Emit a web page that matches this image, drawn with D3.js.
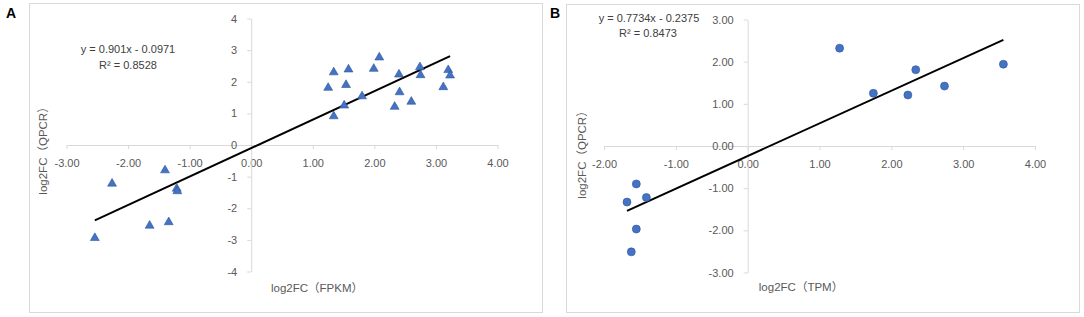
<!DOCTYPE html>
<html><head><meta charset="utf-8">
<script src="https://cdn.jsdelivr.net/npm/d3@7"></script>
<style>
html,body{margin:0;padding:0;background:#fff;}
svg text{font-family:"Liberation Sans","Noto Sans CJK SC",sans-serif;}
</style></head>
<body><svg id="c" width="1084" height="317"></svg>
<script>
// Panel A data: log2FC (FPKM) vs log2FC (QPCR)
const aX = [-2.54,-2.26,-1.65,-1.34,-1.40,-1.21,-1.20,1.25,1.34,1.34,1.51,1.54,1.58,1.80,1.99,2.08,2.33,2.40,2.41,2.60,2.74,2.75,3.12,3.20,3.23];
const aY = [-2.94,-1.22,-2.55,-2.44,-0.80,-1.38,-1.46,1.81,2.30,0.91,1.25,1.90,2.39,1.54,2.41,2.77,1.21,2.23,1.67,1.37,2.46,2.21,1.83,2.37,2.20];
const aXTicks = [-3,-2,-1,0,1,2,3,4];
const aYTicks = [-4,-3,-2,-1,0,1,2,3,4];
const aFit = {slope:0.901, intercept:-0.0971};
const aEq = ["y = 0.901x - 0.0971", "R² = 0.8528"];

// Panel B data: log2FC (TPM) vs log2FC (QPCR)
const bX = [-1.68,-1.55,-1.41,-1.55,-1.62,1.28,1.75,2.23,2.34,2.74,3.56];
const bY = [-1.33,-0.90,-1.22,-1.97,-2.51,2.32,1.25,1.21,1.81,1.42,1.94];
const bXTicks = [-2,-1,0,1,2,3,4];
const bYTicks = [-3,-2,-1,0,1,2,3];
const bFit = {slope:0.7734, intercept:-0.2375};
const bEq = ["y = 0.7734x - 0.2375", "R² = 0.8473"];

const svg = d3.select("#c");
const gridC = "#d9d9d9", labC = "#595959", markFill = "#4472C4", markStroke = "#2F5597";

function panel(opt){
  const g = svg.append("g");
  g.append("rect").attr("x",opt.box[0]).attr("y",opt.box[1]).attr("width",opt.box[2]).attr("height",opt.box[3])
    .attr("fill","none").attr("stroke",gridC).attr("stroke-width",1);
  g.append("text").attr("x",opt.letter[0]).attr("y",opt.letter[1]).text(opt.letterText)
    .attr("font-size",14).attr("font-weight","bold").attr("fill","#000");
  const x = d3.scaleLinear().domain(opt.xd).range(opt.xr);
  const y = d3.scaleLinear().domain(opt.yd).range(opt.yr);
  const xa = g.append("g").attr("transform",`translate(0,${y(0)})`)
    .call(d3.axisBottom(x).tickValues(opt.xt).tickFormat(d=>d.toFixed(2)).tickSize(4).tickSizeOuter(0).tickPadding(10));
  const ya = g.append("g").attr("transform",`translate(${x(0)},0)`)
    .call(d3.axisLeft(y).tickValues(opt.yt).tickFormat(opt.yf).tickSize(4).tickSizeOuter(0).tickPadding(10));
  [xa,ya].forEach(a=>{
    a.select(".domain").attr("stroke",gridC);
    a.selectAll(".tick line").attr("stroke",gridC);
    a.selectAll(".tick text").attr("fill",labC).attr("font-size",11)
      .attr("font-family",'"Liberation Sans",sans-serif');
  });
  // trendline
  const ex = d3.extent(opt.px);
  const f = v => opt.fit.slope*v + opt.fit.intercept;
  g.append("line").attr("x1",x(ex[0])).attr("y1",y(f(ex[0]))).attr("x2",x(ex[1])).attr("y2",y(f(ex[1])))
    .attr("stroke","#000").attr("stroke-width",2);
  // markers
  const pts = opt.px.map((v,i)=>({x:v,y:opt.py[i]}));
  if(opt.tri){
    g.selectAll("path.m").data(pts).join("path").attr("class","m")
      .attr("d",d3.symbol(d3.symbolTriangle,34)())
      .attr("transform",d=>`translate(${x(d.x)},${y(d.y)})`)
      .attr("fill",markFill).attr("stroke",markStroke).attr("stroke-width",0.6);
  } else {
    g.selectAll("circle.m").data(pts).join("circle").attr("class","m")
      .attr("cx",d=>x(d.x)).attr("cy",d=>y(d.y)).attr("r",4)
      .attr("fill",markFill).attr("stroke",markStroke).attr("stroke-width",0.6);
  }
  // equation
  opt.eq.forEach((t,i)=>{
    g.append("text").attr("x",opt.eqPos[i][0]).attr("y",opt.eqPos[i][1]).attr("dy","0.35em")
      .attr("text-anchor","middle").attr("font-size",11).attr("fill","#404040").text(t);
  });
  // axis titles
  g.append("text").attr("x",opt.xTitle[0]).attr("y",opt.xTitle[1]).attr("dy","0.35em")
    .attr("text-anchor","middle").attr("font-size",11.5).attr("fill",labC).text(opt.xTitleText);
  g.append("text").attr("transform",`translate(${opt.yTitle[0]},${opt.yTitle[1]}) rotate(-90)`).attr("dy","0.35em")
    .attr("text-anchor","middle").attr("font-size",11.5).attr("fill",labC).text("log2FC（QPCR）");
}

panel({
  box:[29.5,3.5,513,309], letter:[6,18], letterText:"A",
  xd:[-3,4], xr:[66.5,497.5], yd:[-4,4], yr:[271.5,18.5],
  xt:aXTicks, yt:aYTicks, yf:d=>String(d),
  px:aX, py:aY, fit:aFit, tri:true,
  eq:aEq, eqPos:[[128,49],[128,65]],
  xTitle:[317,288], xTitleText:"log2FC（FPKM）", yTitle:[43,148]
});
panel({
  box:[566.5,4.5,513,308], letter:[550,18], letterText:"B",
  xd:[-2,4], xr:[604,1035], yd:[-3,3], yr:[272.5,19.5],
  xt:bXTicks, yt:bYTicks, yf:d=>d.toFixed(2),
  px:bX, py:bY, fit:bFit, tri:false,
  eq:bEq, eqPos:[[649,18],[648,33]],
  xTitle:[801,287], xTitleText:"log2FC（TPM）", yTitle:[582,152]
});
</script></body></html>
